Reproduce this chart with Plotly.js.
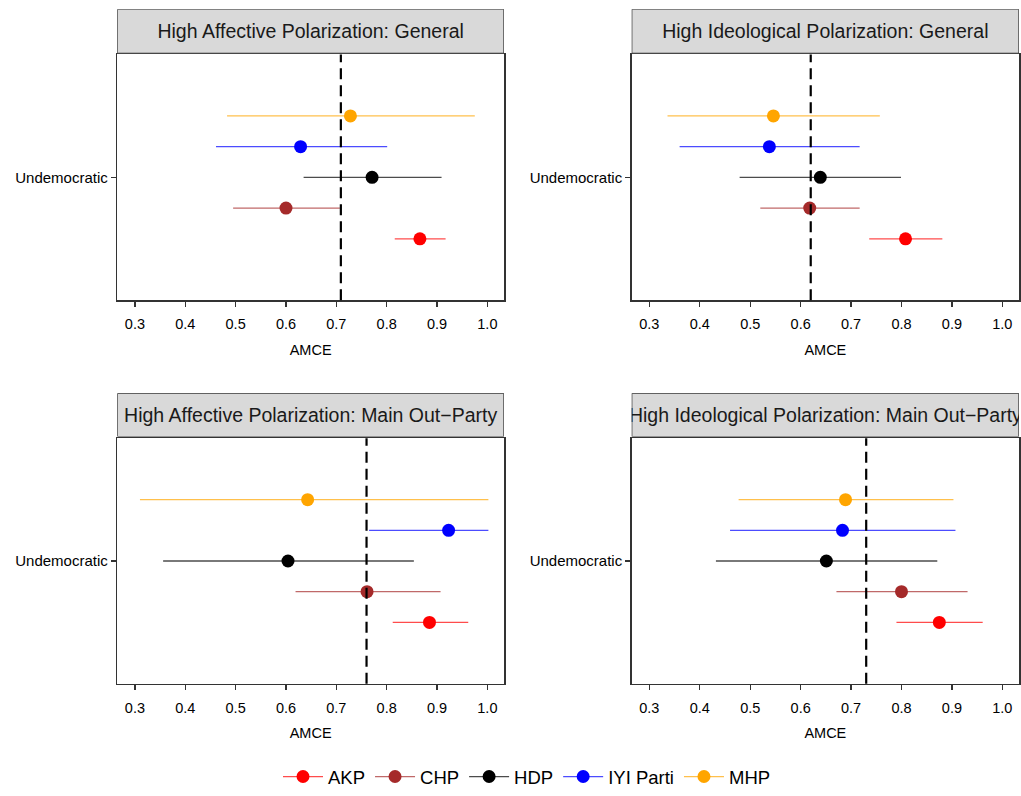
<!DOCTYPE html>
<html>
<head>
<meta charset="utf-8">
<script src="https://cdn.plot.ly/plotly-3.0.1.min.js"></script>
<style>html,body{margin:0;padding:0;background:#fff;}#chart{width:1021px;height:796px;}</style>
</head>
<body>
<div id="chart"></div>
<script>
// ---- data ----
const parties = ['AKP', 'CHP', 'HDP', 'IYI Parti', 'MHP'];
const partyColors = ['#FF0000', '#A52A2A', '#000000', '#0000FF', '#FFA500'];
const category = 'Undemocratic';
const panelTitles = [
  'High Affective Polarization: General',
  'High Ideological Polarization: General',
  'High Affective Polarization: Main Out\u2212Party',
  'High Ideological Polarization: Main Out\u2212Party'
];
const estAffGen  = [0.866, 0.600, 0.771, 0.629, 0.728];
const loAffGen   = [0.816, 0.495, 0.635, 0.461, 0.483];
const hiAffGen   = [0.917, 0.707, 0.909, 0.801, 0.975];
const estIdeoGen = [0.808, 0.618, 0.639, 0.538, 0.546];
const loIdeoGen  = [0.736, 0.520, 0.479, 0.360, 0.336];
const hiIdeoGen  = [0.881, 0.717, 0.799, 0.717, 0.757];
const estAffOut  = [0.885, 0.761, 0.604, 0.923, 0.643];
const loAffOut   = [0.812, 0.619, 0.356, 0.765, 0.310];
const hiAffOut   = [0.962, 0.907, 0.854, 1.002, 1.002];
const estIdeoOut = [0.875, 0.800, 0.651, 0.683, 0.689];
const loIdeoOut  = [0.790, 0.671, 0.432, 0.460, 0.477];
const hiIdeoOut  = [0.961, 0.931, 0.871, 0.907, 0.903];
const benchmark  = [0.709, 0.620, 0.760, 0.730];
const xTicks = [0.3, 0.4, 0.5, 0.6, 0.7, 0.8, 0.9, 1.0];
const xTickText = ['0.3', '0.4', '0.5', '0.6', '0.7', '0.8', '0.9', '1.0'];

const panels = [
  {est: estAffGen, lo: loAffGen, hi: hiAffGen},
  {est: estIdeoGen, lo: loIdeoGen, hi: hiIdeoGen},
  {est: estAffOut, lo: loAffOut, hi: hiAffOut},
  {est: estIdeoOut, lo: loIdeoOut, hi: hiIdeoOut}
];

// ---- layout geometry ----
const W = 1021, H = 796;
const colX = [[117.3, 504], [631.7, 1019]];
const rowY = [[55, 303.3], [442.7, 690.7]];
const stripY = [[9.3, 54], [397.3, 441]];
const FONT = '"Liberation Sans", Arial, Helvetica, sans-serif';
const dodgeStep = 0.15;

function rgba(hex, a) {
  const r = parseInt(hex.slice(1, 3), 16), g = parseInt(hex.slice(3, 5), 16), b = parseInt(hex.slice(5, 7), 16);
  return `rgba(${r},${g},${b},${a})`;
}

const traces = [];
const layout = {
  width: W, height: H,
  margin: {l: 0, r: 0, t: 0, b: 0},
  paper_bgcolor: '#FFFFFF',
  plot_bgcolor: 'rgba(0,0,0,0)',
  showlegend: true,
  legend: {
    orientation: 'h', x: 527 / W, xanchor: 'center', y: 1 - 785 / H, yanchor: 'middle',
    font: {family: FONT, size: 18.5, color: '#000'}, itemwidth: 40
  },
  shapes: [],
  annotations: []
};

panels.forEach((p, k) => {
  const col = k % 2, row = Math.floor(k / 2);
  const n = k + 1, sn = k + 5;
  const xa = 'xaxis' + (n === 1 ? '' : n), ya = 'yaxis' + (n === 1 ? '' : n);
  const xid = 'x' + (n === 1 ? '' : n), yid = 'y' + (n === 1 ? '' : n);
  layout[xa] = {
    domain: [colX[col][0] / W, colX[col][1] / W], anchor: yid,
    range: [0.265, 1.033], tickvals: xTicks, ticktext: xTickText,
    showgrid: false, zeroline: false, showline: true, mirror: true,
    linecolor: '#333333', linewidth: 1.5, ticks: 'outside', ticklen: 5, tickwidth: 1.3, tickcolor: '#333333',
    tickfont: {family: FONT, size: 14.5, color: '#000'}, ticklabelstandoff: 5,
    title: {text: 'AMCE', font: {family: FONT, size: 14.5, color: '#000'}, standoff: 13},
    fixedrange: true
  };
  layout[ya] = {
    domain: [1 - rowY[row][1] / H, 1 - rowY[row][0] / H], anchor: xid,
    range: [0.4, 1.6], tickvals: [1], ticktext: [category],
    showgrid: false, zeroline: false, showline: true, mirror: true,
    linecolor: '#333333', linewidth: 1.5, ticks: 'outside', ticklen: 5, tickwidth: 1.3, tickcolor: '#333333',
    tickfont: {family: FONT, size: 15, color: '#000'},
    fixedrange: true
  };
  // strip axes
  layout['xaxis' + sn] = {domain: [colX[col][0] / W, colX[col][1] / W], anchor: 'y' + sn, range: [0, 1],
    showgrid: false, zeroline: false, showticklabels: false, ticks: '', showline: false, fixedrange: true};
  layout['yaxis' + sn] = {domain: [1 - stripY[row][1] / H, 1 - stripY[row][0] / H], anchor: 'x' + sn, range: [0, 1],
    showgrid: false, zeroline: false, showticklabels: false, ticks: '', showline: false, fixedrange: true};
  layout.shapes.push({type: 'rect', xref: 'x' + sn, yref: 'y' + sn, x0: 0, x1: 1, y0: 0, y1: 1,
    fillcolor: '#D9D9D9', line: {color: '#333333', width: 1.3}, layer: 'below'});
  traces.push({type: 'scatter', mode: 'text', x: [0.5], y: [0.46], text: [panelTitles[k]],
    textfont: {family: FONT, size: 19.5, color: '#1A1A1A'}, textposition: 'middle center',
    xaxis: 'x' + sn, yaxis: 'y' + sn, cliponaxis: true, showlegend: false, hoverinfo: 'skip'});
  // benchmark dashed line
  layout.shapes.push({type: 'line', xref: xid, yref: yid + ' domain', x0: benchmark[k], x1: benchmark[k], y0: 0, y1: 1,
    line: {color: '#000000', width: 2.2, dash: '11px,6px'}, layer: 'above'});
  // party estimates
  parties.forEach((party, i) => {
    const yPos = 1 + (i - (parties.length - 1) / 2) * dodgeStep;
    traces.push({
      type: 'scatter', mode: 'lines+markers', name: party, legendgroup: party, showlegend: k === 0,
      x: [p.est[i]], y: [yPos], xaxis: xid, yaxis: yid, cliponaxis: false,
      line: {color: rgba(partyColors[i], 0.7), width: 1.3},
      marker: {color: partyColors[i], size: 13},
      error_x: {type: 'data', symmetric: false, array: [p.hi[i] - p.est[i]], arrayminus: [p.est[i] - p.lo[i]],
        color: rgba(partyColors[i], 0.7), thickness: 1.3, width: 0}
    });
  });
});

Plotly.newPlot('chart', traces, layout, {displayModeBar: false, staticPlot: true});
</script>
</body>
</html>
